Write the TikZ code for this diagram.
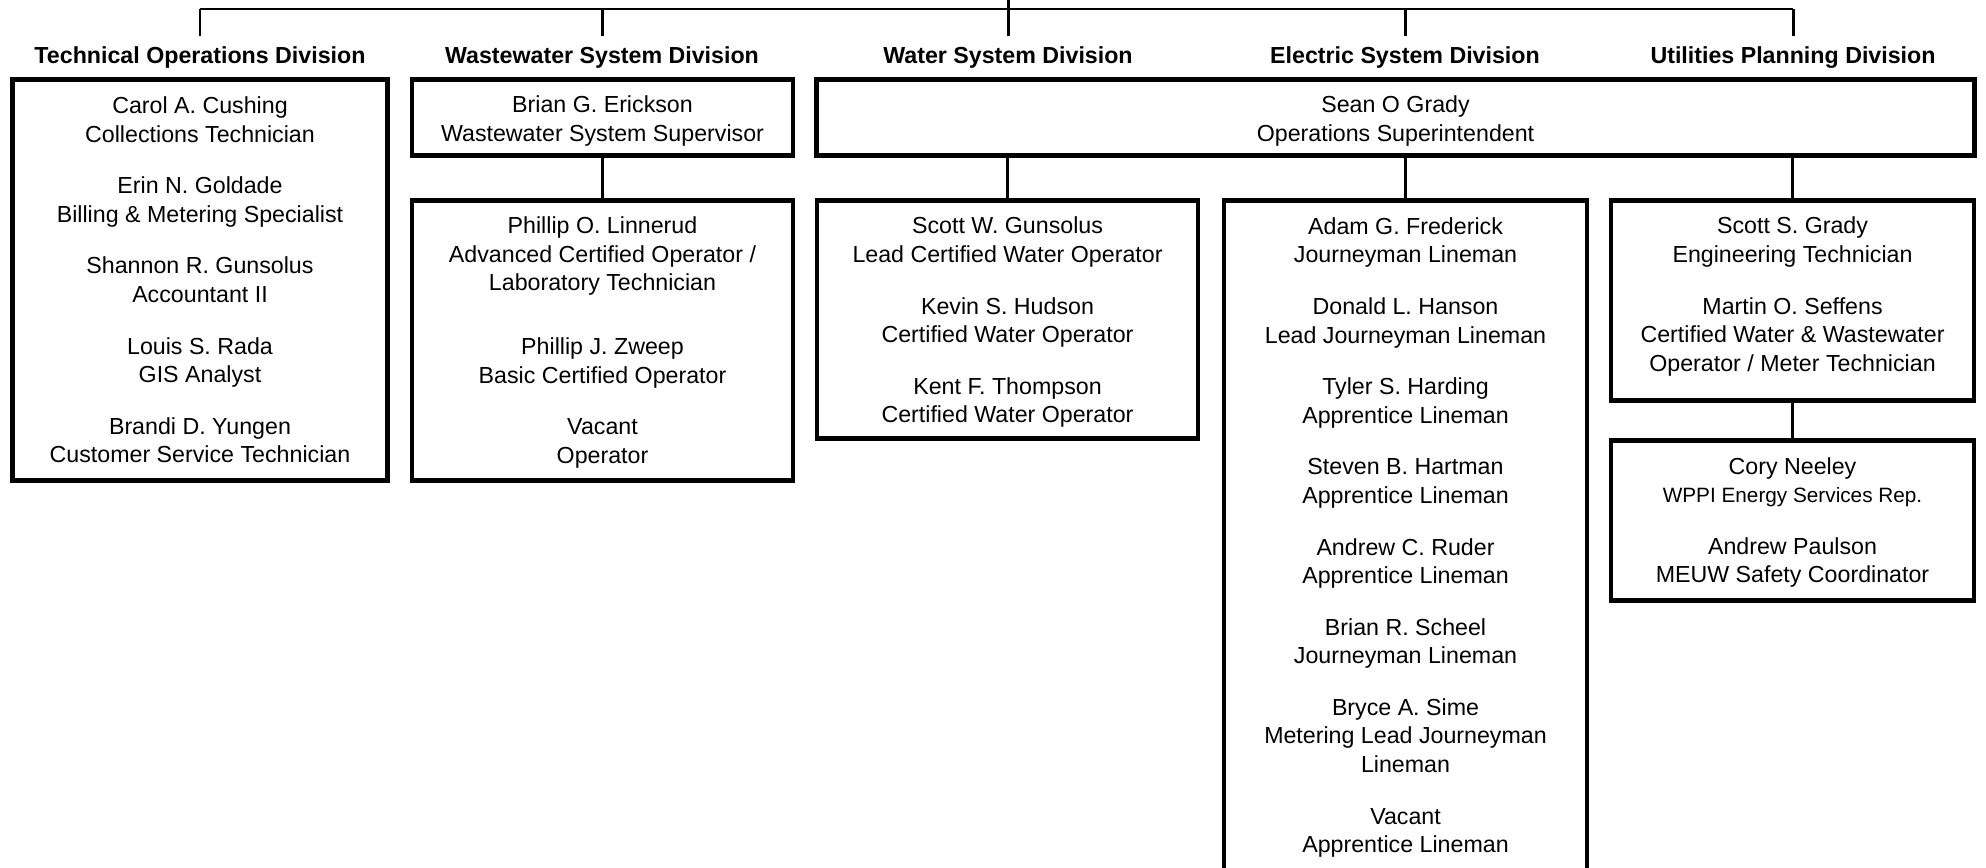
\documentclass[tikz,border=0pt]{standalone}
\usepackage{fontspec}
\setmainfont{Liberation Sans}
\usepackage {tikz}
\usetikzlibrary {positioning}

\begin{document}
\begin{tikzpicture}[x=0.01cm, y=0.01cm,
	box/.style={draw, line width=1.3pt, align=center, anchor=north, inner sep=0pt, font=\fontsize{6.6}{8.1}\selectfont},
	division/.style={font=\bfseries\fontsize{6.6}{8.1}\selectfont, inner xsep=0pt, inner ysep=2.9pt},
	link/.style={line width=0.85pt}]
	\useasboundingbox (0,0) rectangle (1986,-867);
	\path (1008,0) coordinate (top)
	++ (0,-9) coordinate (bus);
	\node[division] (techdiv) at (200,-58) {Technical Operations Division};
	\node[division] (wwdiv) at (602,-58) {Wastewater System Division};
	\node[division] (waterdiv) at (1008,-58) {Water System Division};
	\node[division] (elecdiv) at (1405,-58) {Electric System Division};
	\node[division] (plandiv) at (1793,-58) {Utilities Planning Division};
	\node[box, minimum width=3.75cm, minimum height=4.01cm] (techbox) at (200,-77)
	{Carol A. Cushing\\Collections Technician\\[6.6pt]
	 Erin N. Goldade\\Billing \& Metering Specialist\\[6.6pt]
	 Shannon R. Gunsolus\\Accountant II\\[6.6pt]
	 Louis S. Rada\\GIS Analyst\\[6.6pt]
	 Brandi D. Yungen\\Customer Service Technician};
	\node[box, minimum width=3.81cm, minimum height=0.76cm] (wwtop) at (602.5,-77)
	{\rule{0pt}{7pt}Brian G. Erickson\\Wastewater System Supervisor};
	\node[box, minimum width=11.57cm, minimum height=0.76cm] (seanbox) at (1395.5,-77)
	{\rule{0pt}{7pt}Sean O Grady\\Operations Superintendent};
	\node[box, minimum width=3.81cm, minimum height=2.8cm] (wwbox) at (602.5,-198)
	{\rule{0pt}{6pt}Phillip O. Linnerud\\Advanced Certified Operator /\\Laboratory Technician\\[10.1pt]
	 Phillip J. Zweep\\Basic Certified Operator\\[6.6pt]
	 Vacant\\Operator};
	\node[box, minimum width=3.81cm, minimum height=2.38cm] (waterbox) at (1007.5,-198)
	{\rule{0pt}{6.5pt}Scott W. Gunsolus\\Lead Certified Water Operator\\[6.6pt]
	 Kevin S. Hudson\\Certified Water Operator\\[6.6pt]
	 Kent F. Thompson\\Certified Water Operator};
	\node[box, minimum width=3.63cm, minimum height=6.74cm] (elecbox) at (1405.5,-198)
	{Adam G. Frederick\\Journeyman Lineman\\[6.6pt]
	 Donald L. Hanson\\Lead Journeyman Lineman\\[6.6pt]
	 Tyler S. Harding\\Apprentice Lineman\\[6.6pt]
	 Steven B. Hartman\\Apprentice Lineman\\[6.6pt]
	 Andrew C. Ruder\\Apprentice Lineman\\[6.6pt]
	 Brian R. Scheel\\Journeyman Lineman\\[6.6pt]
	 Bryce A. Sime\\Metering Lead Journeyman\\Lineman\\[6.6pt]
	 Vacant\\Apprentice Lineman};
	\node[box, minimum width=3.63cm, minimum height=2cm] (plantop) at (1792.5,-198)
	{Scott S. Grady\\Engineering Technician\\[6.6pt]
	 Martin O. Seffens\\Certified Water \& Wastewater\\Operator / Meter Technician\rule[-3.6pt]{0pt}{0pt}};
	\node[box, minimum width=3.63cm, minimum height=1.6cm] (planbot) at (1792.5,-438)
	{\rule{0pt}{6pt}Cory Neeley\\{\fontsize{5.9}{8.1}\selectfont WPPI Energy Services Rep.}\\[6.6pt]
	 Andrew Paulson\\MEUW Safety Coordinator};
	% tree lines
	\draw[link] (top) -- (bus) (techdiv.north |- bus) -- (plandiv.north |- bus);
	\foreach \d in {techdiv,wwdiv,waterdiv,elecdiv,plandiv}
		\draw[link] (\d.north) -- (\d.north |- bus);
	\draw[link] (wwtop) -- (wwbox);
	\foreach \b in {waterbox,elecbox,plantop}
		\draw[link] (\b.north) -- (\b.north |- seanbox.south);
	\draw[link] (plantop) -- (planbot);
\end{tikzpicture}
\end{document}
